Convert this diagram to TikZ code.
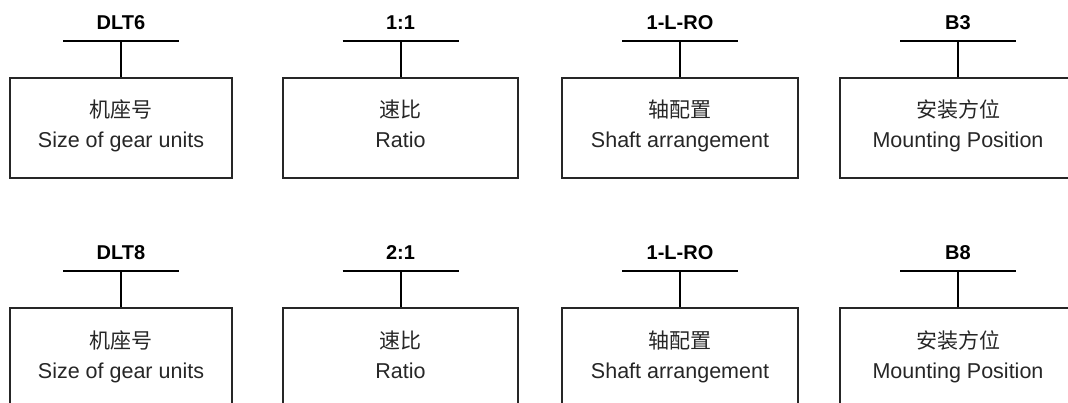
\documentclass[tikz,border=0pt]{standalone}
\usepackage{fontspec}
\setmainfont{Liberation Sans}
\newfontfamily\cjk{Noto Sans CJK SC}
% #1 name, #2 centre x, #3 box width, #4 row offset, #5 label, #6 chinese, #7 english
\newcommand{\gearunit}[7]{%
  \node[unitbox, minimum width=#3pt] (#1box) at (#2, 128+#4) {};
  \coordinate (#1l) at (#2-58, 41+#4);
  \coordinate (#1r) at (#2+58, 41+#4);
  \coordinate (#1m) at (#2, 41+#4);
  \draw[bar] (#1l) -- (#1r);
  \draw[bar] (#1m) -- (#1box.north);
  \node[lbl] (#1lbl) at (#2, 30+#4) {#5};
  \node[zh] (#1zh) at (#2, 118+#4) {#6};
  \node[en] (#1en) at (#2, 148+#4) {#7};
}
\begin{document}
\begin{tikzpicture}[x=1pt,y=-1pt,
  unitbox/.style={draw=black!85, line width=1.1pt, minimum height=100pt, inner sep=0pt},
  bar/.style={line width=2pt, black},
  lbl/.style={font=\fontsize{20}{24}\selectfont\bfseries, anchor=base, inner sep=0pt},
  zh/.style={font=\cjk\fontsize{21}{25}\selectfont, anchor=base, inner sep=0pt, text=black!85},
  en/.style={font=\fontsize{21.5}{25}\selectfont, anchor=base, inner sep=0pt, text=black!85}]
\useasboundingbox (0,0) rectangle (1068,403);
\clip (0,0) rectangle (1068,403);
\gearunit{a1}{121}{222}{0}{DLT6}{机座号}{Size of gear units}
\gearunit{b1}{400.5}{235}{0}{1:1}{速比}{Ratio}
\gearunit{c1}{680}{236}{0}{1-L-RO}{轴配置}{Shaft arrangement}
\gearunit{d1}{958}{236}{0}{B3}{安装方位}{Mounting Position}
\gearunit{a2}{121}{222}{230}{DLT8}{机座号}{Size of gear units}
\gearunit{b2}{400.5}{235}{230}{2:1}{速比}{Ratio}
\gearunit{c2}{680}{236}{230}{1-L-RO}{轴配置}{Shaft arrangement}
\gearunit{d2}{958}{236}{230}{B8}{安装方位}{Mounting Position}
\end{tikzpicture}
\end{document}
